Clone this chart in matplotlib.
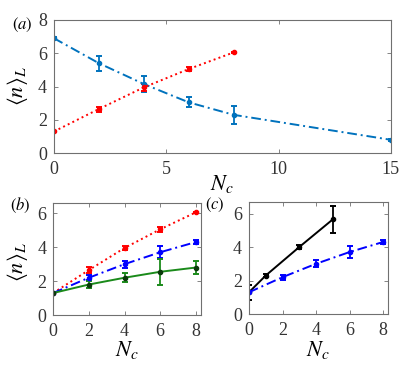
import matplotlib
matplotlib.use("Agg")
import matplotlib.pyplot as plt

plt.rcParams['font.family'] = ['Liberation Serif', 'DejaVu Serif']
plt.rcParams['mathtext.fontset'] = 'stix'

# Panel (a)
a_blue_x = [0, 2, 4, 6, 8, 15]
a_blue_y = [6.9, 5.4, 4.15, 3.05, 2.3, 0.8]
a_blue_e = [0.05, 0.45, 0.5, 0.3, 0.55, 0.05]
a_red_x = [0, 2, 4, 6, 8]
a_red_y = [1.3, 2.65, 3.95, 5.05, 6.05]
a_red_e = [0.03, 0.15, 0.2, 0.12, 0.03]

# Panel (b)
b_x = [0, 2, 4, 6, 8]
b_red_y = [1.3, 2.65, 3.95, 5.05, 6.05]
b_red_e = [0.03, 0.2, 0.1, 0.15, 0.03]
b_blue_y = [1.3, 2.2, 3.0, 3.7, 4.3]
b_blue_e = [0.05, 0.15, 0.2, 0.35, 0.1]
b_green_y = [1.3, 1.8, 2.2, 2.55, 2.8]
b_green_e = [0.05, 0.2, 0.25, 0.75, 0.4]

# Panel (c)
c_black_x = [0, 1, 3, 5]
c_black_y = [1.3, 2.3, 4.0, 5.65]
c_black_e = [0.45, 0.1, 0.1, 0.8]
c_blue_x = [0, 2, 4, 6, 8]
c_blue_y = [1.3, 2.2, 3.0, 3.7, 4.3]
c_blue_e = [0.05, 0.15, 0.2, 0.35, 0.1]

MBLUE = '#0072BD'
fig = plt.figure(figsize=(4.15, 3.69), dpi=100)
axa = fig.add_axes([0.130, 0.585, 0.812, 0.361])
axb = fig.add_axes([0.128, 0.146, 0.357, 0.304])
axc = fig.add_axes([0.600, 0.149, 0.335, 0.304])

def style(ax):
    for s in ax.spines.values():
        s.set_color('#707070')
        s.set_linewidth(0.8)
    ax.tick_params(direction='in', length=3, width=0.6, color='#707070',
                   labelsize=13, top=True, right=True)
    ax.tick_params(axis='x', pad=6)
    ax.tick_params(axis='y', pad=5)
    for t in ax.get_xticklabels() + ax.get_yticklabels():
        t.set_color('#333333')

def eb(ax, x, y, e, color, ls, mfc=None):
    ax.errorbar(x, y, yerr=e, color=color, ls=ls, lw=1.4, marker='.',
                ms=6, mfc=mfc or color, mec=mfc or color, capsize=2.5,
                elinewidth=1.3, capthick=1.4)

eb(axa, a_blue_x, a_blue_y, a_blue_e, MBLUE, (0, (5, 2, 1, 2)))
eb(axa, a_red_x, a_red_y, a_red_e, 'red', ':')
axa.set_xlim(0, 15)
axa.set_ylim(0, 8)
axa.set_xticks([0, 5, 10, 15])
axa.set_yticks([0, 2, 4, 6, 8])
style(axa)

eb(axb, b_x, b_red_y, b_red_e, 'red', ':')
eb(axb, b_x, b_blue_y, b_blue_e, 'blue', (0, (5, 2, 1, 2)))
eb(axb, b_x, b_green_y, b_green_e, '#1a8a1a', '-', mfc='#0a3a0a')
axb.set_xlim(0, 8.3)
axb.set_ylim(0, 6.6)
axb.set_xticks([0, 2, 4, 6, 8])
axb.set_yticks([0, 2, 4, 6])
style(axb)

eb(axc, c_black_x, c_black_y, c_black_e, 'black', '-')
eb(axc, c_blue_x, c_blue_y, c_blue_e, 'blue', (0, (5, 2, 1, 2)))
axc.set_xlim(0, 8.3)
axc.set_ylim(0, 6.7)
axc.set_xticks([0, 2, 4, 6, 8])
axc.set_yticks([0, 2, 4, 6])
style(axc)

lab = dict(fontsize=16, ha='center', va='center')
fig.text(17/415, 1-86/369, r'$\langle n\rangle_L$', rotation=90, **lab)
fig.text(17/415, 1-262/369, r'$\langle n\rangle_L$', rotation=90, **lab)
fig.text(222/415, 1-184/369, r'$N_c$', **lab)
fig.text(127/415, 1-350/369, r'$N_c$', **lab)
fig.text(318/415, 1-350/369, r'$N_c$', **lab)
pl = dict(fontsize=12, ha='center', va='center')
fig.text(22/415, 1-25/369, r'$(a)$', **pl)
fig.text(20/415, 1-205/369, r'$(b)$', **pl)
fig.text(215/415, 1-205/369, r'$(c)$', **pl)

fig.savefig('out.png', dpi=100)
